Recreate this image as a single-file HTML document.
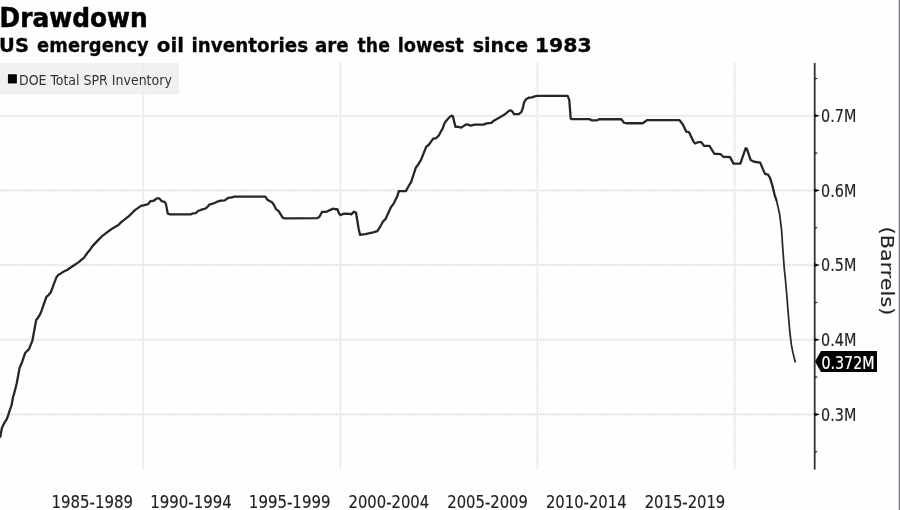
<!DOCTYPE html>
<html><head><meta charset="utf-8"><style>
html,body{margin:0;padding:0;background:#fefefe;}
svg{display:block;will-change:transform;filter:blur(0.3px);font-family:'DejaVu Sans', 'Liberation Sans', sans-serif;}
</style></head><body>
<svg width="900" height="510" viewBox="0 0 900 510">
<rect x="0" y="63" width="179" height="31.2" fill="#f0eff1"/>
<line x1="0" y1="115.8" x2="814" y2="115.8" stroke="#f2f2f2" stroke-width="2.2"/>
<line x1="0" y1="115.8" x2="814" y2="115.8" stroke="#e3e3e3" stroke-width="1.5" stroke-dasharray="1.5 1.5"/>
<line x1="0" y1="190.4" x2="814" y2="190.4" stroke="#f2f2f2" stroke-width="2.2"/>
<line x1="0" y1="190.4" x2="814" y2="190.4" stroke="#e3e3e3" stroke-width="1.5" stroke-dasharray="1.5 1.5"/>
<line x1="0" y1="265.1" x2="814" y2="265.1" stroke="#f2f2f2" stroke-width="2.2"/>
<line x1="0" y1="265.1" x2="814" y2="265.1" stroke="#e3e3e3" stroke-width="1.5" stroke-dasharray="1.5 1.5"/>
<line x1="0" y1="339.7" x2="814" y2="339.7" stroke="#f2f2f2" stroke-width="2.2"/>
<line x1="0" y1="339.7" x2="814" y2="339.7" stroke="#e3e3e3" stroke-width="1.5" stroke-dasharray="1.5 1.5"/>
<line x1="0" y1="414.4" x2="814" y2="414.4" stroke="#f2f2f2" stroke-width="2.2"/>
<line x1="0" y1="414.4" x2="814" y2="414.4" stroke="#e3e3e3" stroke-width="1.5" stroke-dasharray="1.5 1.5"/>
<line x1="143.3" y1="63" x2="143.3" y2="469" stroke="#f2f2f2" stroke-width="2"/>
<line x1="143.3" y1="63" x2="143.3" y2="469" stroke="#e3e3e3" stroke-width="1.4" stroke-dasharray="1.5 1.5"/>
<line x1="340.4" y1="63" x2="340.4" y2="469" stroke="#f2f2f2" stroke-width="2"/>
<line x1="340.4" y1="63" x2="340.4" y2="469" stroke="#e3e3e3" stroke-width="1.4" stroke-dasharray="1.5 1.5"/>
<line x1="537.5" y1="63" x2="537.5" y2="469" stroke="#f2f2f2" stroke-width="2"/>
<line x1="537.5" y1="63" x2="537.5" y2="469" stroke="#e3e3e3" stroke-width="1.4" stroke-dasharray="1.5 1.5"/>
<line x1="734.7" y1="63" x2="734.7" y2="469" stroke="#f2f2f2" stroke-width="2"/>
<line x1="734.7" y1="63" x2="734.7" y2="469" stroke="#e3e3e3" stroke-width="1.4" stroke-dasharray="1.5 1.5"/>
<rect x="6.8" y="73" width="11.3" height="11.8" fill="#fafafa"/>
<rect x="7.9" y="74.2" width="9" height="9.3" fill="#050505"/>
<text x="18.98" y="84.6" font-size="13.7" style="font-stretch:condensed" fill="#333" textLength="152.85" lengthAdjust="spacingAndGlyphs">DOE Total SPR Inventory</text>
<path d="M-2,438.5 L0.4,436 L1,432.3 L2,427.4 L4.4,422.5 L6.9,418.5 L8.3,414.6 L9.8,409.7 L11.3,405.8 L12.3,400.9 L13.2,396 L13.7,394.9 L16.7,383.1 L19.6,367.5 L22.5,360.6 L25.1,352.7 L29,348.8 L32.4,340.2 L34.4,329.4 L36.2,319.6 L37.9,317.6 L40.3,313.5 L41.5,310.6 L46.4,296.6 L48.5,294.7 L50.9,291.8 L53.9,283.5 L56.6,276.6 L58.5,274.4 L60.5,273.3 L63.8,271.2 L67.1,269.6 L72.9,265.7 L78.8,261.8 L81.6,259.2 L83.7,257.8 L87.1,252.9 L89.6,250 L92.5,245.8 L97.2,240.8 L102.7,235.2 L107.4,231.7 L112.9,227.8 L118.4,224.7 L121.5,221.5 L128.6,216.1 L134.9,209.8 L141.1,205.5 L144.3,204.8 L148.2,203.8 L150.5,200.7 L153.7,200.4 L156.8,198 L159.2,198 L161.5,200.7 L164.6,201.6 L165.9,203.5 L167.8,213.4 L170,214 L190.7,214 L192.7,213.1 L196,212.7 L198,210.7 L200.7,209.6 L205.3,208.3 L207.3,206.7 L209.3,204.3 L214,202.9 L216.7,201.6 L220,200.4 L224.7,200 L228,197.6 L232,197.1 L234,196.3 L265.3,196.3 L267.3,199.3 L272,202 L274,204.7 L276,208.7 L278.7,210.7 L282.7,217.3 L284,218 L317.3,217.7 L319.3,216.7 L322,211.6 L326,211.6 L329.3,210 L333.3,208.3 L335.3,208.9 L337.3,208.7 L339.3,213.7 L340.7,214.7 L344,213.3 L350,213.6 L351.3,214 L354,211.3 L356,212.4 L358.7,228.7 L360,234.4 L365.3,233.7 L373.3,232 L377.3,230.7 L380,226.7 L383.3,220.7 L385.3,219.1 L390.7,207.3 L394,202.7 L397.3,196 L398.8,190.8 L405.9,190.8 L408.5,185.9 L411.2,181.5 L415.8,167.4 L418.2,164.1 L420.9,159.8 L426.2,146.5 L428.8,144.4 L433.2,138.2 L435.9,137.9 L438.5,135.6 L441.2,130.6 L442.4,128.8 L444.8,122.3 L446.9,119.6 L450.2,116.1 L451.6,115.4 L452.8,115.8 L454.1,121 L455.4,126.5 L457.8,126.4 L461.3,127.2 L463.5,125.8 L466,124.1 L468,124.3 L470.7,125.3 L474.7,124.3 L483.3,124.3 L486.7,123 L491.3,122.6 L493.3,120.7 L498.7,117.7 L503.3,115 L506,113 L509.3,110.3 L511.3,110.1 L512.7,111.7 L514,113.7 L518.7,113.7 L521.3,111.7 L522.7,108.3 L524,102.3 L526,99 L528.7,97.4 L532,97 L534.7,96.1 L537.3,95.6 L567.7,95.6 L569.3,99.7 L570.7,118.3 L572,118.8 L589.3,118.8 L592,120 L597.3,120 L599.3,118.9 L621.3,118.9 L624,122.4 L626,122.9 L642.7,122.9 L647.3,119.7 L679.3,119.7 L682.7,123.9 L686.2,131.2 L688.9,131.7 L693.7,141.7 L695.1,143.1 L698.5,141.7 L701.3,141.7 L704,145.5 L709.5,145.5 L714.3,153.4 L720.5,153.7 L723.2,156.4 L730.1,156.8 L733.5,163.3 L740.4,163.3 L745.6,147.9 L746.8,148.2 L750.6,159.6 L754.1,161.4 L760.2,162.3 L763,169 L765,173.5 L768,174.3 L770,177.5 L772.3,185 L774.6,194.5 L776.6,200.4" transform="translate(0,0.35)" fill="none" stroke="#262528" stroke-width="2.3" stroke-linejoin="round" stroke-linecap="butt"/>
<path d="M776.6,200.4 L779.5,213.1 L781.5,228.8 L782.8,248.4 L784.4,270 L784.8,272.9 L786.6,292.4 L788.3,313.9 L789.8,331.2 L791.3,344.1 L793,352.8 L795.2,361.4" transform="translate(0,0.35)" fill="none" stroke="#2a292c" stroke-width="1.75" stroke-linejoin="round" stroke-linecap="round"/>
<line x1="814.7" y1="63" x2="814.7" y2="469.5" stroke="#333" stroke-width="1.8"/>
<polygon points="814.5,114.0 820,115.8 814.5,117.6" fill="#111"/>
<polygon points="814.5,188.6 820,190.4 814.5,192.2" fill="#111"/>
<polygon points="814.5,263.3 820,265.1 814.5,266.9" fill="#111"/>
<polygon points="814.5,337.9 820,339.7 814.5,341.5" fill="#111"/>
<polygon points="814.5,412.6 820,414.4 814.5,416.2" fill="#111"/>
<polygon points="814.5,77.2 818.2,78.5 814.5,79.8" fill="#333"/>
<polygon points="814.5,151.8 818.2,153.1 814.5,154.4" fill="#333"/>
<polygon points="814.5,226.5 818.2,227.8 814.5,229.1" fill="#333"/>
<polygon points="814.5,301.1 818.2,302.4 814.5,303.7" fill="#333"/>
<polygon points="814.5,375.8 818.2,377.1 814.5,378.4" fill="#333"/>
<polygon points="814.5,450.4 818.2,451.7 814.5,453.0" fill="#333"/>
<text x="821.11" y="122.1" font-size="18" style="font-stretch:condensed" fill="#222" textLength="35.21" lengthAdjust="spacingAndGlyphs" stroke="#222" stroke-width="0.15">0.7M</text>
<text x="821.11" y="196.8" font-size="18" style="font-stretch:condensed" fill="#222" textLength="35.21" lengthAdjust="spacingAndGlyphs" stroke="#222" stroke-width="0.15">0.6M</text>
<text x="821.11" y="271.4" font-size="18" style="font-stretch:condensed" fill="#222" textLength="35.21" lengthAdjust="spacingAndGlyphs" stroke="#222" stroke-width="0.15">0.5M</text>
<text x="821.11" y="346.0" font-size="18" style="font-stretch:condensed" fill="#222" textLength="35.32" lengthAdjust="spacingAndGlyphs" stroke="#222" stroke-width="0.15">0.4M</text>
<text x="821.11" y="420.7" font-size="18" style="font-stretch:condensed" fill="#222" textLength="35.21" lengthAdjust="spacingAndGlyphs" stroke="#222" stroke-width="0.15">0.3M</text>
<polygon points="815,361.5 821,351 877,351 877,372 821,372" fill="#000"/>
<text x="821.4" y="368.6" font-size="17.7" style="font-stretch:condensed" fill="#fff" textLength="53.15" lengthAdjust="spacingAndGlyphs" stroke="#fff" stroke-width="0.2">0.372M</text>
<text x="51.47" y="507.5" font-size="17.3" style="font-stretch:condensed" fill="#222" textLength="81.63" lengthAdjust="spacingAndGlyphs" stroke="#222" stroke-width="0.15">1985-1989</text>
<text x="150.17" y="507.5" font-size="17.3" style="font-stretch:condensed" fill="#222" textLength="81.63" lengthAdjust="spacingAndGlyphs" stroke="#222" stroke-width="0.15">1990-1994</text>
<text x="248.87" y="507.5" font-size="17.3" style="font-stretch:condensed" fill="#222" textLength="81.63" lengthAdjust="spacingAndGlyphs" stroke="#222" stroke-width="0.15">1995-1999</text>
<text x="348.55" y="507.5" font-size="17.3" style="font-stretch:condensed" fill="#222" textLength="80.65" lengthAdjust="spacingAndGlyphs" stroke="#222" stroke-width="0.15">2000-2004</text>
<text x="447.25" y="507.5" font-size="17.3" style="font-stretch:condensed" fill="#222" textLength="80.65" lengthAdjust="spacingAndGlyphs" stroke="#222" stroke-width="0.15">2005-2009</text>
<text x="545.95" y="507.5" font-size="17.3" style="font-stretch:condensed" fill="#222" textLength="80.65" lengthAdjust="spacingAndGlyphs" stroke="#222" stroke-width="0.15">2010-2014</text>
<text x="644.65" y="507.5" font-size="17.3" style="font-stretch:condensed" fill="#222" textLength="80.65" lengthAdjust="spacingAndGlyphs" stroke="#222" stroke-width="0.15">2015-2019</text>
<text transform="translate(881,226.62) rotate(90)" x="0" y="0" font-size="17.5" fill="#222" stroke="#222" stroke-width="0.15" textLength="88.65" lengthAdjust="spacingAndGlyphs">(Barrels)</text>
<text x="-0.45" y="26.7" font-size="27" font-weight="bold" style="font-stretch:condensed" fill="#000" textLength="148.08" lengthAdjust="spacingAndGlyphs" stroke="#000" stroke-width="0.5">Drawdown</text>
<text x="-0.95" y="52.3" font-size="20" font-weight="bold" fill="#050505" textLength="29.86" lengthAdjust="spacingAndGlyphs" stroke="#050505" stroke-width="0.3">US</text>
<text x="37.11" y="52.3" font-size="20" font-weight="bold" fill="#050505" textLength="111.65" lengthAdjust="spacingAndGlyphs" stroke="#050505" stroke-width="0.3">emergency</text>
<text x="156.8" y="52.3" font-size="20" font-weight="bold" fill="#050505" textLength="27.34" lengthAdjust="spacingAndGlyphs" stroke="#050505" stroke-width="0.3">oil</text>
<text x="191.47" y="52.3" font-size="20" font-weight="bold" fill="#050505" textLength="116.73" lengthAdjust="spacingAndGlyphs" stroke="#050505" stroke-width="0.3">inventories</text>
<text x="314.89" y="52.3" font-size="20" font-weight="bold" fill="#050505" textLength="33.77" lengthAdjust="spacingAndGlyphs" stroke="#050505" stroke-width="0.3">are</text>
<text x="357.6" y="52.3" font-size="20" font-weight="bold" fill="#050505" textLength="32.29" lengthAdjust="spacingAndGlyphs" stroke="#050505" stroke-width="0.3">the</text>
<text x="397.71" y="52.3" font-size="20" font-weight="bold" fill="#050505" textLength="66.18" lengthAdjust="spacingAndGlyphs" stroke="#050505" stroke-width="0.3">lowest</text>
<text x="472.65" y="52.3" font-size="20" font-weight="bold" fill="#050505" textLength="55.61" lengthAdjust="spacingAndGlyphs" stroke="#050505" stroke-width="0.3">since</text>
<text x="534.65" y="52.3" font-size="20" font-weight="bold" fill="#050505" textLength="57.06" lengthAdjust="spacingAndGlyphs" stroke="#050505" stroke-width="0.3">1983</text>
<rect x="898.7" y="0" width="1.3" height="510" fill="#7c7c80"/>
</svg>
</body></html>
